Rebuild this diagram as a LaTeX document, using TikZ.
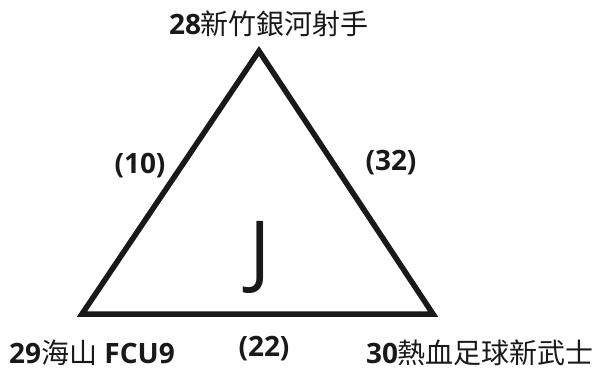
\documentclass[tikz,border=0pt]{standalone}
\usepackage{fontspec}
\setmainfont{Open Sans}
\newfontfamily\cjk{Noto Sans CJK TC}
\begin{document}
\begin{tikzpicture}[x=1pt,y=-1pt,
    teamlabel/.style={font=\fontsize{28}{32}\selectfont, inner sep=0pt, text=black!90},
    scorelabel/.style={font=\fontsize{28}{32}\selectfont\bfseries, inner sep=0pt, text=black!90},]
    \useasboundingbox (0,0) rectangle (598,369);
    %Vertices
    \coordinate (top) at (259,51);
    \coordinate (left) at (82,314);
    \coordinate (right) at (433,314);
    
    %Triangle
    \draw[line width=5.5pt, line join=miter, black!90] (top) -- (left) -- (right) -- cycle;
    
    %Labels
    \node[teamlabel] (t28) at (269,24) {\textbf{28}{\cjk 新竹銀河射手}};
    \node[teamlabel] (t29) at (92,353) {\textbf{29}{\cjk 海山} \textbf{FCU9}};
    \node[teamlabel] (t30) at (480,353) {\textbf{30}{\cjk 熱血足球新武士}};
    \node[scorelabel] (s10) at (140,166) {(10)};
    \node[scorelabel] (s32) at (391,163) {(32)};
    \node[scorelabel] (s22) at (264,349) {(22)};
    \node[font=\fontsize{80}{84}\selectfont, inner sep=0pt, text=black!90] (group) at (260,257) {J};
\end{tikzpicture}
\end{document}
